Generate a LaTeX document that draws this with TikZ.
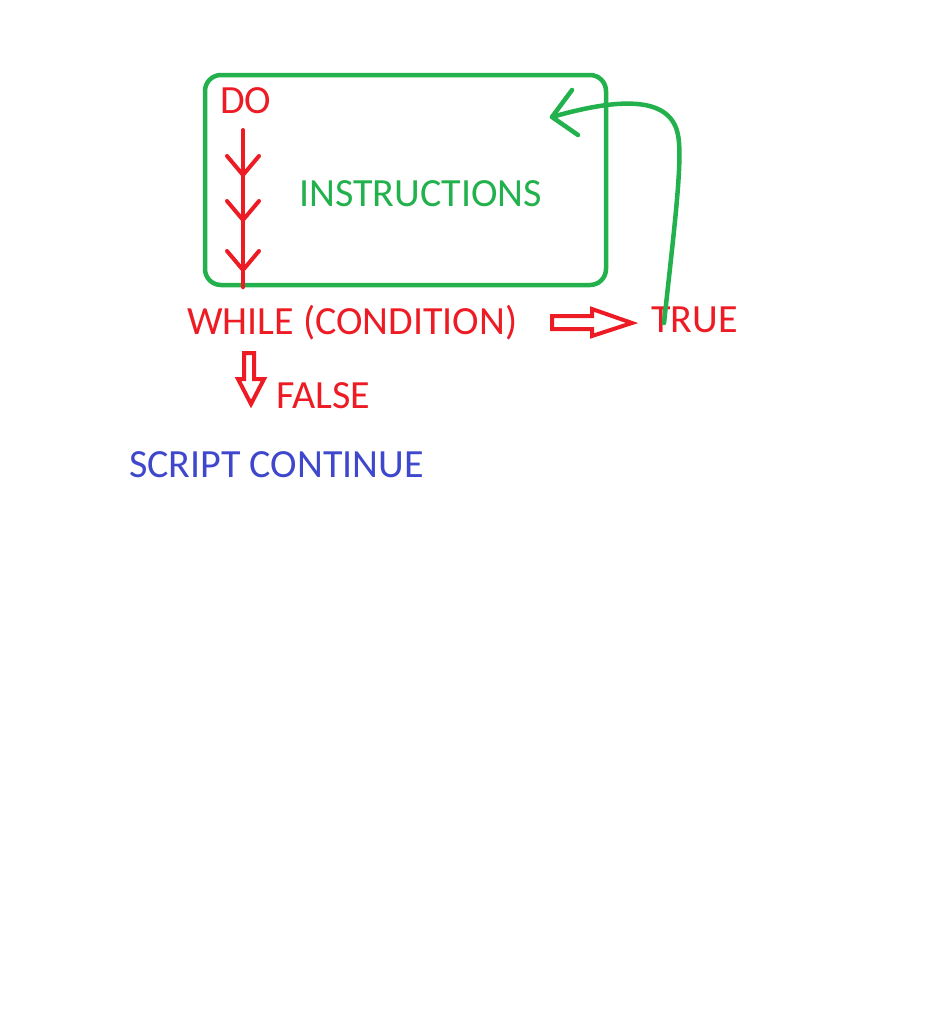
\documentclass[tikz,border=0pt]{standalone}
\usepackage{fontspec}
\setmainfont{Carlito}
\usetikzlibrary{calc}
\definecolor{paintgreen}{RGB}{34,177,76}
\definecolor{paintred}{RGB}{237,28,36}
\definecolor{paintblue}{RGB}{63,72,204}
\tikzset{
  word/.style={ % capital words of the sketch
    anchor=base west, inner sep=0pt,
    font=\fontsize{40}{45}\selectfont
  },
  body/.style={ % green box round the loop body
    draw=paintgreen, line width=4.5pt, rounded corners=16pt,
    minimum width=401pt, minimum height=210pt, inner sep=0pt
  },
  redline/.style={
    draw=paintred, line width=4pt, line cap=round, line join=round
  },
  greenline/.style={
    draw=paintgreen, line width=4.5pt, line cap=round, line join=round
  },
  fatarrow/.style={ % outlined block arrow
    draw=paintred, line width=4pt, line join=miter
  }
}
\begin{document}
\begin{tikzpicture}[x=1pt, y=-1pt]
    \useasboundingbox (0,0) rectangle (926,1012);

    \node[body] (box) at (405.5,180) {};
    \node[word, text=paintred] (do_label) at (220,113) {DO};
    \node[word, text=paintgreen] (instr_label) at (299,206) {INSTRUCTIONS};
    \node[word, text=paintred] (while_label) at (187,334) {WHILE (CONDITION)};
    \node[word, text=paintred] (true_label) at (651,332) {TRUE};
    \node[word, text=paintred] (false_label) at (276,408) {FALSE};
    \node[word, text=paintblue] (cont_label) at (129,477) {SCRIPT CONTINUE};

    % steps inside the loop body
    \coordinate (do_top) at (243,130);
    \draw[redline] (do_top) -- (do_top |- box.south);
    \foreach \y in {175,220,270}
      \draw[redline] (227,\y-19) -- (243,\y) -- (259,\y-19);

    % block arrows out of the condition
    \draw[fatarrow] (552,316) -- (592,316) -- (592,309) -- (632,323)
      -- (592,336) -- (592,329) -- (552,329) -- cycle;
    \draw[fatarrow] (244,353) -- (254,353) -- (254,379) -- (264,379)
      -- (251,404) -- (238,379) -- (244,379) -- cycle;

    % back into the loop
    \coordinate (loop_start) at (664,323);
    \coordinate (loop_end) at (552,117);
    \draw[greenline] (loop_start) .. controls (674,230) and (683,160) .. (678,135)
      .. controls (671,98) and (625,96) .. (loop_end);
    \draw[greenline] (loop_end) ++(20,-27) -- (loop_end) -- ++(26,18);
\end{tikzpicture}
\end{document}
